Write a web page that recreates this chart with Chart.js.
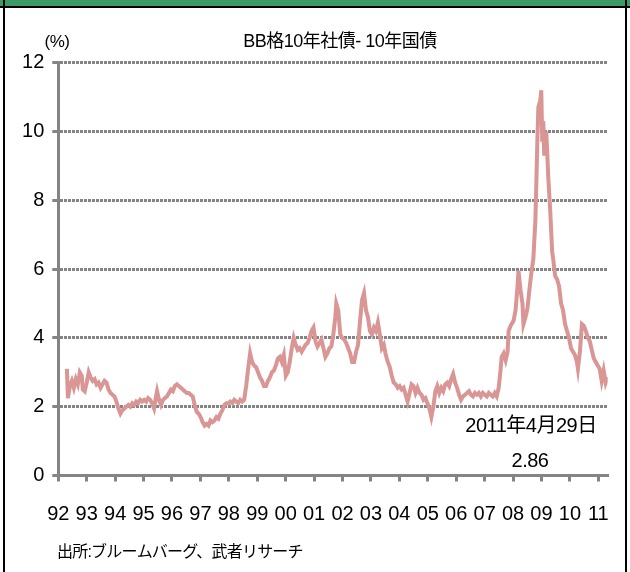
<!DOCTYPE html>
<html><head><meta charset="utf-8">
<script src="https://cdn.jsdelivr.net/npm/chart.js@4.4.1/dist/chart.umd.min.js"></script>
<style>html,body{margin:0;padding:0;background:#fff;overflow:hidden}</style>
</head><body>
<canvas id="c" width="630" height="572"></canvas>
<script>
const dates = [
1992.303,1992.338,1992.408,1992.477,1992.547,1992.617,1992.686,1992.756,1992.826,1992.861,1992.930,
1993.000,1993.070,1993.139,1993.209,1993.279,1993.348,1993.418,1993.488,1993.557,1993.627,1993.697,1993.767,1993.836,1993.906,1993.976,
1994.045,1994.115,1994.185,1994.254,1994.324,1994.394,1994.463,1994.533,1994.603,1994.672,1994.742,1994.812,1994.882,1994.951,
1995.021,1995.091,1995.160,1995.230,1995.300,1995.369,1995.439,1995.474,1995.544,1995.613,1995.683,1995.753,1995.822,1995.892,1995.962,
1996.031,1996.101,1996.171,1996.240,1996.310,1996.380,1996.449,1996.519,1996.589,1996.659,1996.728,1996.798,1996.868,1996.937,
1997.007,1997.077,1997.146,1997.216,1997.286,1997.355,1997.425,1997.495,1997.564,1997.634,1997.704,1997.774,1997.843,1997.913,1997.983,
1998.052,1998.122,1998.192,1998.261,1998.331,1998.401,1998.470,1998.540,1998.610,1998.679,1998.749,1998.819,1998.889,1998.958,
1999.028,1999.098,1999.167,1999.237,1999.307,1999.376,1999.446,1999.516,1999.585,1999.655,1999.725,1999.794,1999.864,1999.934,1999.969,
2000.003,2000.073,2000.143,2000.213,2000.282,2000.352,2000.422,2000.491,2000.561,2000.631,2000.700,2000.770,2000.840,2000.909,2000.979,
2001.049,2001.118,2001.188,2001.258,2001.328,2001.397,2001.467,2001.537,2001.606,2001.676,2001.746,2001.780,2001.850,2001.920,2001.990,
2002.059,2002.129,2002.199,2002.268,2002.338,2002.408,2002.477,2002.547,2002.617,2002.686,2002.756,2002.826,2002.895,2002.965,
2003.035,2003.105,2003.174,2003.244,2003.314,2003.383,2003.453,2003.523,2003.592,2003.662,2003.732,2003.801,2003.871,2003.941,
2004.010,2004.080,2004.150,2004.220,2004.289,2004.359,2004.429,2004.498,2004.568,2004.638,2004.707,2004.777,2004.847,2004.916,2004.986,
2005.056,2005.125,2005.195,2005.265,2005.334,2005.404,2005.474,2005.544,2005.613,2005.683,2005.753,2005.822,2005.892,2005.962,
2006.031,2006.101,2006.171,2006.240,2006.310,2006.380,2006.449,2006.519,2006.589,2006.659,2006.728,2006.798,2006.868,2006.937,
2007.007,2007.077,2007.146,2007.216,2007.286,2007.355,2007.425,2007.495,2007.564,2007.599,2007.669,2007.739,2007.808,2007.843,2007.913,
2008.017,2008.087,2008.157,2008.192,2008.261,2008.331,2008.366,2008.436,2008.505,2008.575,2008.645,2008.714,2008.784,2008.819,2008.854,2008.889,2008.958,2008.993,
2009.028,2009.063,2009.098,2009.167,2009.202,2009.237,2009.307,2009.376,2009.411,2009.481,2009.551,2009.620,2009.690,2009.760,2009.829,2009.899,2009.969,
2010.038,2010.108,2010.178,2010.247,2010.282,2010.352,2010.422,2010.491,2010.561,2010.631,2010.700,2010.770,2010.840,2010.909,2010.979,
2011.049,2011.118,2011.188,2011.258,2011.326
];
const spread = [
3.1,2.25,2.6,2.75,2.55,2.8,2.65,3.0,2.9,2.5,2.45,
2.7,3.0,2.85,2.75,2.8,2.65,2.7,2.55,2.65,2.75,2.7,2.5,2.4,2.35,2.3,
2.15,1.95,1.8,1.9,1.95,2.0,2.05,2.0,2.1,2.05,2.15,2.1,2.2,2.15,
2.2,2.15,2.25,2.2,2.1,1.95,2.3,2.45,2.2,2.05,2.2,2.25,2.3,2.4,2.5,
2.45,2.6,2.65,2.6,2.55,2.5,2.45,2.4,2.4,2.35,2.3,2.05,1.85,1.8,
1.7,1.55,1.45,1.5,1.45,1.6,1.55,1.6,1.7,1.65,1.8,1.9,2.05,2.1,2.1,
2.15,2.1,2.2,2.15,2.1,2.2,2.15,2.2,2.6,3.1,3.55,3.3,3.2,3.15,
3.0,2.85,2.75,2.6,2.6,2.75,2.85,3.0,3.05,3.2,3.4,3.45,3.3,3.5,3.2,
2.9,3.0,3.3,3.7,4.0,3.8,3.65,3.7,3.6,3.7,3.8,3.85,4.0,4.2,4.3,
3.9,3.75,3.85,3.95,3.7,3.45,3.55,3.7,3.75,4.1,4.6,5.0,4.8,4.1,4.0,
3.95,3.85,3.7,3.55,3.3,3.3,3.6,3.8,4.5,5.1,5.3,4.8,4.6,4.2,
4.1,4.3,4.2,4.45,4.1,3.7,3.8,3.5,3.3,3.15,2.9,2.7,2.65,2.55,
2.6,2.5,2.55,2.35,2.15,2.4,2.65,2.6,2.4,2.55,2.4,2.35,2.2,2.25,2.1,
1.95,1.7,2.0,2.45,2.6,2.4,2.55,2.45,2.65,2.7,2.6,2.8,2.95,2.7,
2.55,2.35,2.2,2.3,2.35,2.4,2.45,2.35,2.3,2.4,2.35,2.4,2.3,2.4,
2.35,2.3,2.4,2.35,2.3,2.4,2.3,2.55,3.1,3.45,3.55,3.35,3.6,4.2,4.35,
4.5,4.8,5.5,5.95,5.4,5.0,4.4,4.6,4.85,5.4,5.9,6.3,7.4,8.5,9.7,10.7,10.9,11.2,
9.7,10.3,9.3,10.0,9.4,8.7,7.7,6.5,6.3,5.8,5.7,5.5,5.0,4.8,4.4,4.2,4.0,
3.7,3.6,3.5,3.3,3.1,3.6,4.4,4.35,4.2,4.0,3.9,3.65,3.4,3.3,3.2,
3.1,2.75,3.05,2.7,2.86
];
const yearTicks = [1992,1993,1994,1995,1996,1997,1998,1999,2000,2001,2002,2003,2004,2005,2006,2007,2008,2009,2010,2011];
const valueTicks = [0,2,4,6,8,10,12];
const chartTitle = 'BB格10年社債- 10年国債';
const unitLabel = '(%)';
const noteDate = '2011年4月29日';
const noteValue = '2.86';
const sourceText = '出所:ブルームバーグ、武者リサーチ';

const FONT = "'Liberation Sans', Arial, 'Noto Sans CJK JP', sans-serif";
const GRID = '#848484';

const points = dates.map((d, i) => ({x: d, y: spread[i]}));

const decor = {
  id: 'decor',
  beforeDraw(chart) {
    const ctx = chart.ctx;
    ctx.save();
    ctx.fillStyle = '#ffffff';
    ctx.fillRect(0, 0, chart.width, chart.height);
    ctx.fillStyle = '#3b9a66';
    ctx.fillRect(0, 0, chart.width, 6);
    ctx.fillStyle = '#000000';
    ctx.fillRect(0, 6, chart.width, 2);
    ctx.fillRect(3, 0, 2, chart.height);
    ctx.fillRect(625, 0, 2, chart.height);
    ctx.restore();
  },
  afterDraw(chart) {
    const ctx = chart.ctx;
    ctx.save();
    ctx.fillStyle = '#000';
    ctx.textBaseline = 'middle';
    try { ctx.letterSpacing = '-0.5px'; } catch (e) {}
    ctx.font = '18px ' + FONT;
    ctx.textAlign = 'center';
    ctx.fillText(chartTitle, 340, 42);
    ctx.font = '17px ' + FONT;
    ctx.fillText(unitLabel, 57, 42);
    ctx.font = '20px ' + FONT;
    ctx.fillText(noteDate, 531, 426);
    ctx.fillText(noteValue, 530, 461);
    ctx.textAlign = 'left';
    try { ctx.letterSpacing = '-0.8px'; } catch (e) {}
    ctx.font = '16px ' + FONT;
    ctx.fillText(sourceText, 57, 553);
    ctx.restore();
  }
};

new Chart(document.getElementById('c'), {
  type: 'line',
  data: {
    datasets: [{
      data: points,
      borderColor: '#d99694',
      borderWidth: 4,
      pointRadius: 0,
      tension: 0,
      fill: false
    }]
  },
  options: {
    responsive: false,
    animation: false,
    devicePixelRatio: 1,
    layout: {padding: {left: 0, right: 17, top: 62.7, bottom: 0}},
    plugins: {legend: {display: false}, tooltip: {enabled: false}, title: {display: false}},
    scales: {
      x: {
        type: 'linear',
        min: 1992,
        max: 2011.33,
        afterBuildTicks: s => { s.ticks = yearTicks.map(v => ({value: v})); },
        afterFit: s => { s.height = 96.5; },
        ticks: {
          callback: v => String(v % 100).padStart(2, '0'),
          font: {size: 20, family: FONT},
          color: '#000',
          padding: 21,
          maxRotation: 0,
          autoSkip: false
        },
        grid: {drawOnChartArea: false, drawTicks: true, tickLength: 6, color: GRID, lineWidth: 3},
        border: {color: GRID, width: 3}
      },
      y: {
        min: 0,
        max: 12,
        afterBuildTicks: s => { s.ticks = valueTicks.map(v => ({value: v})); },
        afterFit: s => { s.width = 58.3; },
        ticks: {
          font: {size: 20, family: FONT},
          color: '#000',
          padding: 8
        },
        grid: {color: GRID, lineWidth: 3, tickLength: 6, drawTicks: true},
        border: {color: GRID, width: 3, dash: [3, 1]}
      }
    }
  },
  plugins: [decor]
});
</script>
</body></html>
